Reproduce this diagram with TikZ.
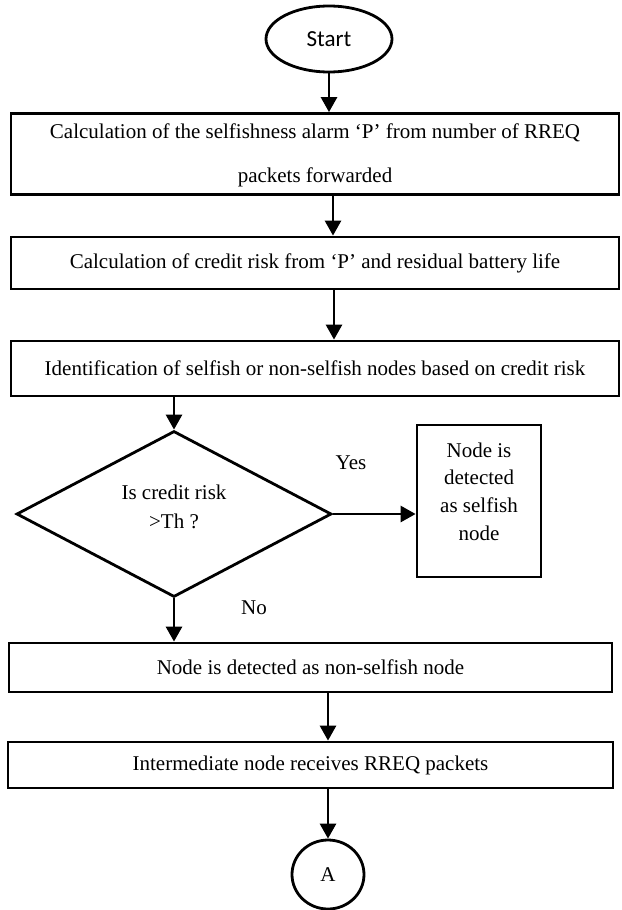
\documentclass[tikz,border=0pt]{standalone}
\usepackage{fontspec}
\setmainfont{Liberation Serif}
\newfontfamily\startfont{Carlito}
\usetikzlibrary{shapes.geometric,arrows.meta}
\begin{document}
\begin{tikzpicture}[x=1pt,y=-1pt,
  box/.style={draw,line width=2.8pt,rectangle,inner sep=0pt},
  txt/.style={inner sep=0pt,font=\fontsize{21}{21}\selectfont},
  arr/.style={line width=2.8pt,-{Triangle[length=15pt,width=16pt]}}]
\useasboundingbox (0,0) rectangle (621,910);
% Start
\node[draw,line width=2.8pt,ellipse,minimum width=126pt,minimum height=66pt,inner sep=0pt,font=\startfont\fontsize{23}{23}\selectfont] (start) at (329,39) {Start};
% box 1
\node[box,minimum width=608pt,minimum height=81pt] (b1) at (315,154) {};
\node[txt] (t1a) at (315,133) {Calculation of the selfishness alarm ‘P’ from number of RREQ};
\node[txt] (t1b) at (315,177) {packets forwarded};
% box 2
\node[box,minimum width=608pt,minimum height=52pt] (b2) at (315,263) {};
\node[txt] (t2) at (315,263) {Calculation of credit risk from ‘P’ and residual battery life};
% box 3
\node[box,minimum width=608pt,minimum height=55pt] (b3) at (315,368.5) {};
\node[txt] (t3) at (315,368) {Identification of selfish or non-selfish nodes based on credit risk};
% decision
\node[draw,line width=2.8pt,diamond,minimum width=315pt,minimum height=166pt,inner sep=0pt] (dec) at (174,514) {};
\node[txt] (d1) at (174,492) {Is credit risk};
\node[txt] (d2) at (174,521) {>Th ?};
% selfish box
\node[box,minimum width=124pt,minimum height=152pt] (sb) at (479,501) {};
\node[txt] (s1) at (479,450) {Node is};
\node[txt] (s2) at (479,477) {detected};
\node[txt] (s3) at (479,505) {as selfish};
\node[txt] (s4) at (479,533) {node};
\node[txt] (yes) at (351,463) {Yes};
\node[txt] (no) at (254,608) {No};
% box 4
\node[box,minimum width=603pt,minimum height=49pt] (b4) at (310.5,667.5) {};
\node[txt] (t4) at (310.5,667) {Node is detected as non-selfish node};
% box 5
\node[box,minimum width=605pt,minimum height=46pt] (b5) at (310.5,765) {};
\node[txt] (t5) at (310.5,765) {Intermediate node receives RREQ packets};
% connector A
\node[draw,line width=2.8pt,ellipse,minimum width=72pt,minimum height=69pt,inner sep=0pt,font=\fontsize{21}{21}\selectfont] (A) at (328,874.5) {A};
% arrows
\draw[arr] (start.south) -- (start.south |- b1.north);
\draw[arr] (b1.south -| 333,0) -- (b2.north -| 333,0);
\draw[arr] (b2.south -| 334,0) -- (b3.north -| 334,0);
\draw[arr] (b3.south -| dec.north) -- (dec.north);
\draw[arr] (dec.east) -- (dec.east -| sb.west);
\draw[arr] (dec.south) -- (dec.south |- b4.north);
\draw[arr] (b4.south -| A.north) -- (b5.north -| A.north);
\draw[arr] (b5.south -| A.north) -- (A.north);
\end{tikzpicture}
\end{document}
